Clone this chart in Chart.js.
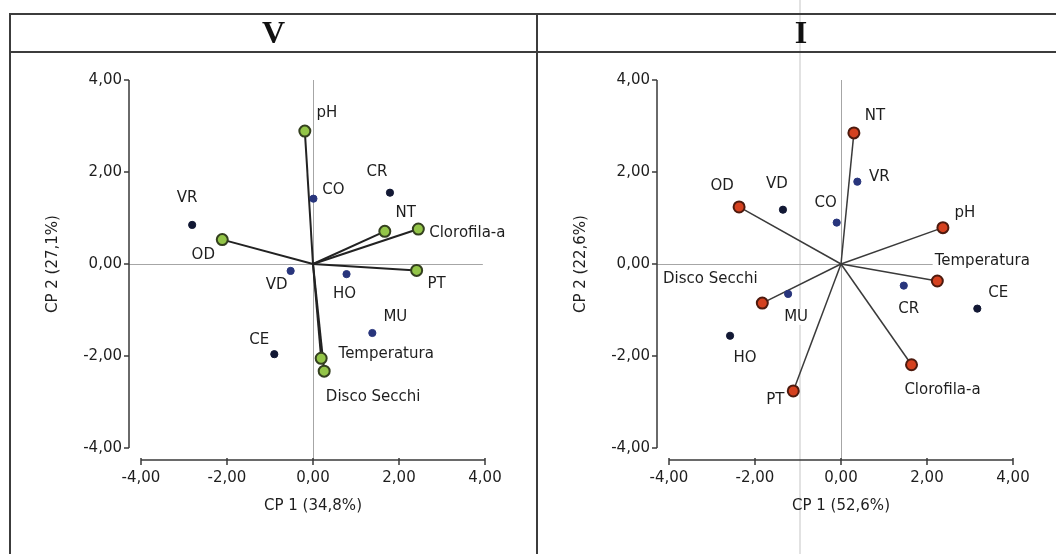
<!DOCTYPE html>
<html>
<head>
<meta charset="utf-8">
<script src="https://cdn.jsdelivr.net/npm/chart.js@4.4.1/dist/chart.umd.min.js"></script>
<style>
    body { margin: 0; width: 1056px; height: 554px; background: #fff; overflow: hidden; position: relative; }
    .rule { position: absolute; background: #3c3c3c; z-index: 3; }
    .head { position: absolute; top: 14px; height: 38px; line-height: 38px; text-align: center; z-index: 5;
            font: bold 32px "Liberation Serif", serif; color: #111; }
    canvas { position: absolute; top: 52px; z-index: 2; }
    .crease { position: absolute; left: 799px; top: 0; width: 2px; height: 554px;
              background: rgba(160, 160, 160, 0.3); z-index: 1; }
</style>
</head>
<body>
<div class="rule" style="left:9px; top:13px; width:1047px; height:2px"></div>
<div class="rule" style="left:9px; top:51px; width:1047px; height:2px"></div>
<div class="rule" style="left:9px; top:13px; width:2px; height:541px"></div>
<div class="rule" style="left:536px; top:13px; width:2px; height:541px"></div>
<div class="crease"></div>
<div class="head" style="left:11px; width:525px">V</div>
<div class="head" style="left:538px; width:526px">I</div>
<canvas id="chartV" width="518" height="502" style="left:10px"></canvas>
<canvas id="chartI" width="518" height="502" style="left:538px"></canvas>

<script>
// --- Panel V: sites and variables on CP1 / CP2 ---
const sitesV = ['CO', 'CR', 'VR', 'VD', 'HO', 'MU', 'CE'];
const siteXV = [0.01, 1.79, -2.81, -0.52, 0.78, 1.38, -0.90];
const siteYV = [1.42, 1.55, 0.85, -0.15, -0.22, -1.50, -1.96];
const varsV = ['pH', 'OD', 'NT', 'Clorofila-a', 'PT', 'Temperatura', 'Disco Secchi'];
const varXV = [-0.19, -2.11, 1.67, 2.45, 2.41, 0.19, 0.26];
const varYV = [2.89, 0.53, 0.71, 0.76, -0.14, -2.05, -2.33];

// --- Panel I ---
const sitesI = ['VR', 'VD', 'CO', 'CR', 'CE', 'MU', 'HO'];
const siteXI = [0.38, -1.35, -0.10, 1.46, 3.17, -1.23, -2.58];
const siteYI = [1.79, 1.18, 0.90, -0.47, -0.97, -0.65, -1.56];
const varsI = ['NT', 'OD', 'pH', 'Temperatura', 'Disco Secchi', 'PT', 'Clorofila-a'];
const varXI = [0.30, -2.37, 2.37, 2.24, -1.83, -1.11, 1.64];
const varYI = [2.85, 1.24, 0.79, -0.37, -0.85, -2.76, -2.19];

// shared axis ticks (both panels run -4 .. 4)
const axisTicks = [-4, -2, 0, 2, 4];
const tickLabels = ['-4,00', '-2,00', '0,00', '2,00', '4,00'];

Chart.defaults.font.family = '"DejaVu Sans", sans-serif';
Chart.defaults.font.size = 15;
Chart.defaults.color = '#1e1e1e';

const tickText = (v, i) => tickLabels[i];

// Reference lines, detached axes and the white-boxed point labels
const pcaDecor = {
    id: 'pcaDecor',
    beforeDatasetsDraw(chart, args, opts) {
        const { ctx, chartArea: a, scales: { x, y } } = chart;
        const axisX = a.left - 12;
        const axisY = a.bottom + 12;
        ctx.save();

        ctx.strokeStyle = '#a6a6a6';
        ctx.lineWidth = 1;
        ctx.beginPath();
        ctx.moveTo(Math.round(x.getPixelForValue(0)) + 0.5, y.getPixelForValue(4));
        ctx.lineTo(Math.round(x.getPixelForValue(0)) + 0.5, axisY);
        ctx.moveTo(axisX, Math.round(y.getPixelForValue(0)) + 0.5);
        ctx.lineTo(x.getPixelForValue(3.95), Math.round(y.getPixelForValue(0)) + 0.5);
        ctx.stroke();

        ctx.strokeStyle = '#3a3a3a';
        ctx.lineWidth = 1.5;
        ctx.beginPath();
        ctx.moveTo(axisX, y.getPixelForValue(y.max));
        ctx.lineTo(axisX, y.getPixelForValue(y.min));
        y.ticks.forEach(t => {
            const py = y.getPixelForValue(t.value);
            ctx.moveTo(axisX - 5, py);
            ctx.lineTo(axisX, py);
        });
        ctx.moveTo(x.getPixelForValue(x.min), axisY);
        ctx.lineTo(x.getPixelForValue(x.max), axisY);
        x.ticks.forEach(t => {
            const px = x.getPixelForValue(t.value);
            ctx.moveTo(px, axisY - 2);
            ctx.lineTo(px, axisY + 5);
        });
        ctx.stroke();

        ctx.font = '15px "DejaVu Sans", sans-serif';
        ctx.textAlign = 'center';
        ctx.textBaseline = 'middle';
        chart.data.datasets.forEach((ds, i) => {
            if (!ds.names) return;
            const meta = chart.getDatasetMeta(i);
            ds.names.forEach((name, j) => {
                const el = meta.data[j];
                const off = opts.offsets[name] || [0, -14];
                const cx = el.x + off[0];
                const cy = el.y + off[1];
                const w = ctx.measureText(name).width;
                ctx.fillStyle = '#fff';
                ctx.fillRect(cx - w / 2 - 2, cy - 8, w + 4, 16);
                ctx.fillStyle = '#1e1e1e';
                ctx.fillText(name, cx, cy);
            });
        });
        ctx.restore();
    }
};

function buildPanel(id, p) {
    const sitePts = p.siteX.map((x, i) => ({ x, y: p.siteY[i] }));
    const varPts = p.varX.map((x, i) => ({ x, y: p.varY[i] }));
    const datasets = [
        {
            type: 'scatter', names: p.vars, data: varPts,
            pointRadius: 5.5, pointBackgroundColor: p.varFill,
            pointBorderColor: p.varEdge, pointBorderWidth: 2
        },
        {
            type: 'scatter', names: p.sites, data: sitePts,
            pointRadius: 3.6, pointBackgroundColor: p.siteTone,
            pointBorderColor: p.siteTone, pointBorderWidth: 1
        }
    ];
    // loading vectors from the origin to each variable
    varPts.forEach(pt => {
        datasets.push({
            type: 'line', data: [{ x: 0, y: 0 }, pt],
            borderColor: p.vecColor, borderWidth: p.vecWidth, pointRadius: 0
        });
    });

    return new Chart(document.getElementById(id), {
        data: { datasets },
        options: {
            responsive: false,
            animation: false,
            devicePixelRatio: 1,
            layout: { padding: { left: 30, right: 43, top: 27, bottom: 39 } },
            plugins: {
                legend: { display: false },
                tooltip: { enabled: false },
                pcaDecor: { offsets: p.offsets }
            },
            scales: {
                x: {
                    type: 'linear', position: 'bottom', min: -4, max: 4,
                    afterBuildTicks: s => { s.ticks = axisTicks.map(v => ({ value: v })); },
                    afterFit: s => { s.height = 67; },
                    ticks: { padding: 21, callback: tickText },
                    grid: { display: false, drawTicks: false },
                    border: { display: false },
                    title: { display: true, text: p.xTitle, padding: { top: 0, bottom: 0 } }
                },
                y: {
                    type: 'linear', position: 'left', min: -4, max: 4,
                    afterBuildTicks: s => { s.ticks = axisTicks.map(v => ({ value: v })); },
                    afterFit: s => { s.width = 101; },
                    ticks: { padding: 19, callback: tickText },
                    grid: { display: false, drawTicks: false },
                    border: { display: false },
                    title: { display: true, text: p.yTitle, padding: { top: 4, bottom: 0 } }
                }
            }
        },
        plugins: [pcaDecor]
    });
}

const dark = '#121834';
const blue = '#28357c';

document.addEventListener('DOMContentLoaded', function() {
    buildPanel('chartV', {
        sites: sitesV, siteX: siteXV, siteY: siteYV,
        vars: varsV, varX: varXV, varY: varYV,
        siteTone: [blue, dark, dark, blue, blue, blue, dark],
        varFill: '#93c548', varEdge: '#34401f',
        vecColor: '#222', vecWidth: 2,
        xTitle: 'CP 1 (34,8%)', yTitle: 'CP 2 (27,1%)',
        offsets: {
            'pH': [22, -18], 'CO': [20, -9], 'CR': [-13, -21], 'VR': [-5, -27],
            'OD': [-19, 15], 'NT': [21, -18], 'Clorofila-a': [49, 4], 'VD': [-14, 14],
            'HO': [-2, 20], 'PT': [20, 14], 'MU': [23, -16], 'CE': [-15, -14],
            'Temperatura': [65, -4], 'Disco Secchi': [49, 26]
        }
    });

    buildPanel('chartI', {
        sites: sitesI, siteX: siteXI, siteY: siteYI,
        vars: varsI, varX: varXI, varY: varYI,
        siteTone: [blue, dark, blue, blue, dark, blue, dark],
        varFill: '#d5411f', varEdge: '#4d1a0e',
        vecColor: '#3a3a3a', vecWidth: 1.5,
        xTitle: 'CP 1 (52,6%)', yTitle: 'CP 2 (22,6%)',
        offsets: {
            'NT': [21, -17], 'VR': [22, -5], 'OD': [-17, -21], 'VD': [-6, -26],
            'CO': [-11, -19], 'pH': [22, -15], 'Temperatura': [45, -20], 'CE': [21, -16],
            'Disco Secchi': [-52, -24], 'CR': [5, 23], 'MU': [8, 23], 'HO': [15, 22],
            'PT': [-18, 9], 'Clorofila-a': [31, 25]
        }
    });
});
</script>
</body>
</html>
